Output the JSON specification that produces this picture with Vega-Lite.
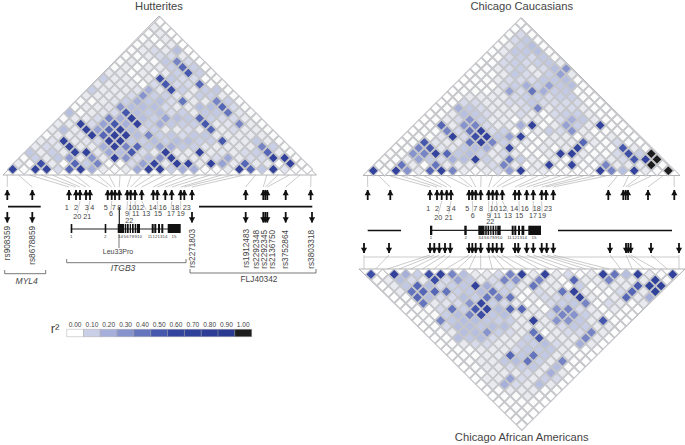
{"$schema":"https://vega.github.io/schema/vega-lite/v6.json","width":685,"height":445,"autosize":"none","padding":0,"background":"white","config":{"view":{"stroke":null},"text":{"font":"Liberation Sans","color":"#444"}},
"datasets":{
"ld":[
{"a":0,"b":1,"h":60,"c":60,"k":55},{"a":1,"b":2,"h":2,"c":0,"k":0},{"a":2,"b":3,"h":60,"c":65,"k":65},{"a":3,"b":4,"h":60,"c":30,"k":20},{"a":4,"b":5,"h":8,"c":5,"k":10},{"a":5,"b":6,"h":45,"c":45,"k":55},{"a":6,"b":7,"h":65,"c":65,"k":65},{"a":7,"b":8,"h":20,"c":35,"k":35},{"a":8,"b":9,"h":5,"c":5,"k":15},{"a":9,"b":10,"h":3,"c":3,"k":5},{"a":10,"b":11,"h":5,"c":5,"k":5},{"a":11,"b":12,"h":22,"c":8,"k":8},{"a":12,"b":13,"h":65,"c":25,"k":35},{"a":13,"b":14,"h":65,"c":65,"k":65},{"a":14,"b":15,"h":10,"c":5,"k":5},{"a":15,"b":16,"h":20,"c":5,"k":65},{"a":16,"b":17,"h":20,"c":3,"k":5},{"a":17,"b":18,"h":3,"c":3,"k":8},{"a":18,"b":19,"h":3,"c":3,"k":3},{"a":19,"b":20,"h":5,"c":3,"k":5},{"a":20,"b":21,"h":65,"c":65,"k":65},{"a":21,"b":22,"h":45,"c":35,"k":40},{"a":22,"b":23,"h":12,"c":15,"k":15},{"a":23,"b":24,"h":65,"c":65,"k":65},{"a":24,"b":25,"h":6,"c":5,"k":5},{"a":25,"b":26,"h":3,"c":3,"k":3},{"a":26,"b":27,"h":0,"c":100,"k":65},
{"a":0,"b":2,"h":5,"c":3,"k":3},{"a":1,"b":3,"h":3,"c":3,"k":5},{"a":2,"b":4,"h":55,"c":40,"k":15},{"a":3,"b":5,"h":5,"c":5,"k":8},{"a":4,"b":6,"h":3,"c":3,"k":5},{"a":5,"b":7,"h":45,"c":40,"k":55},{"a":6,"b":8,"h":10,"c":5,"k":8},{"a":7,"b":9,"h":35,"c":5,"k":25},{"a":8,"b":10,"h":3,"c":5,"k":12},{"a":9,"b":11,"h":3,"c":5,"k":5},{"a":10,"b":12,"h":8,"c":8,"k":8},{"a":11,"b":13,"h":25,"c":35,"k":35},{"a":12,"b":14,"h":60,"c":5,"k":30},{"a":13,"b":15,"h":5,"c":3,"k":5},{"a":14,"b":16,"h":65,"c":5,"k":35},{"a":15,"b":17,"h":65,"c":65,"k":5},{"a":16,"b":18,"h":5,"c":3,"k":3},{"a":17,"b":19,"h":65,"c":60,"k":45},{"a":18,"b":20,"h":25,"c":3,"k":5},{"a":19,"b":21,"h":5,"c":3,"k":5},{"a":20,"b":22,"h":45,"c":35,"k":35},{"a":21,"b":23,"h":5,"c":5,"k":5},{"a":22,"b":24,"h":5,"c":5,"k":5},{"a":23,"b":25,"h":3,"c":5,"k":5},{"a":24,"b":26,"h":65,"c":100,"k":70},{"a":25,"b":27,"h":2,"c":3,"k":3},
{"a":0,"b":3,"h":3,"c":3,"k":0},{"a":1,"b":4,"h":10,"c":3,"k":5},{"a":2,"b":5,"h":5,"c":5,"k":12},{"a":3,"b":6,"h":12,"c":25,"k":45},{"a":4,"b":7,"h":28,"c":12,"k":15},{"a":5,"b":8,"h":5,"c":8,"k":8},{"a":6,"b":9,"h":30,"c":20,"k":10},{"a":7,"b":10,"h":5,"c":15,"k":12},{"a":8,"b":11,"h":65,"c":65,"k":65},{"a":9,"b":12,"h":30,"c":10,"k":20},{"a":10,"b":13,"h":8,"c":5,"k":8},{"a":11,"b":14,"h":15,"c":40,"k":10},{"a":12,"b":15,"h":30,"c":10,"k":5},{"a":13,"b":16,"h":65,"c":5,"k":40},{"a":14,"b":17,"h":5,"c":3,"k":5},{"a":15,"b":18,"h":5,"c":5,"k":5},{"a":16,"b":19,"h":5,"c":3,"k":3},{"a":17,"b":20,"h":8,"c":5,"k":10},{"a":18,"b":21,"h":22,"c":3,"k":3},{"a":19,"b":22,"h":5,"c":5,"k":5},{"a":20,"b":23,"h":8,"c":5,"k":5},{"a":21,"b":24,"h":8,"c":8,"k":5},{"a":22,"b":25,"h":65,"c":50,"k":50},{"a":23,"b":26,"h":65,"c":65,"k":70},{"a":24,"b":27,"h":3,"c":100,"k":70},
{"a":0,"b":4,"h":12,"c":3,"k":0},{"a":1,"b":5,"h":5,"c":3,"k":5},{"a":2,"b":6,"h":10,"c":30,"k":40},{"a":3,"b":7,"h":5,"c":35,"k":45},{"a":4,"b":8,"h":65,"c":60,"k":45},{"a":5,"b":9,"h":65,"c":45,"k":40},{"a":6,"b":10,"h":6,"c":12,"k":10},{"a":7,"b":11,"h":22,"c":15,"k":12},{"a":8,"b":12,"h":15,"c":10,"k":15},{"a":9,"b":13,"h":50,"c":5,"k":40},{"a":10,"b":14,"h":8,"c":8,"k":10},{"a":11,"b":15,"h":5,"c":5,"k":5},{"a":12,"b":16,"h":65,"c":3,"k":3},{"a":13,"b":17,"h":5,"c":3,"k":8},{"a":14,"b":18,"h":5,"c":5,"k":5},{"a":15,"b":19,"h":65,"c":65,"k":40},{"a":16,"b":20,"h":5,"c":65,"k":65},{"a":17,"b":21,"h":6,"c":5,"k":5},{"a":18,"b":22,"h":5,"c":3,"k":3},{"a":19,"b":23,"h":8,"c":3,"k":3},{"a":20,"b":24,"h":10,"c":8,"k":8},{"a":21,"b":25,"h":45,"c":55,"k":45},{"a":22,"b":26,"h":5,"c":10,"k":5},{"a":23,"b":27,"h":3,"c":100,"k":70},
{"a":0,"b":5,"h":5,"c":0,"k":0},{"a":1,"b":6,"h":8,"c":3,"k":3},{"a":2,"b":7,"h":6,"c":35,"k":45},{"a":3,"b":8,"h":65,"c":50,"k":15},{"a":4,"b":9,"h":5,"c":6,"k":8},{"a":5,"b":10,"h":5,"c":6,"k":8},{"a":6,"b":11,"h":20,"c":12,"k":15},{"a":7,"b":12,"h":65,"c":15,"k":10},{"a":8,"b":13,"h":35,"c":20,"k":40},{"a":9,"b":14,"h":45,"c":5,"k":35},{"a":10,"b":15,"h":12,"c":60,"k":40},{"a":11,"b":16,"h":25,"c":3,"k":3},{"a":12,"b":17,"h":20,"c":3,"k":5},{"a":13,"b":18,"h":12,"c":5,"k":8},{"a":14,"b":19,"h":10,"c":3,"k":8},{"a":15,"b":20,"h":6,"c":5,"k":10},{"a":16,"b":21,"h":5,"c":60,"k":65},{"a":17,"b":22,"h":5,"c":3,"k":5},{"a":18,"b":23,"h":5,"c":3,"k":3},{"a":19,"b":24,"h":5,"c":3,"k":5},{"a":20,"b":25,"h":35,"c":50,"k":45},{"a":21,"b":26,"h":10,"c":5,"k":5},{"a":22,"b":27,"h":3,"c":3,"k":20},
{"a":0,"b":6,"h":5,"c":0,"k":0},{"a":1,"b":7,"h":6,"c":3,"k":3},{"a":2,"b":8,"h":65,"c":50,"k":40},{"a":3,"b":9,"h":5,"c":6,"k":5},{"a":4,"b":10,"h":6,"c":5,"k":6},{"a":5,"b":11,"h":8,"c":5,"k":8},{"a":6,"b":12,"h":65,"c":40,"k":30},{"a":7,"b":13,"h":65,"c":65,"k":60},{"a":8,"b":14,"h":12,"c":35,"k":10},{"a":9,"b":15,"h":10,"c":10,"k":8},{"a":10,"b":16,"h":15,"c":5,"k":5},{"a":11,"b":17,"h":10,"c":5,"k":3},{"a":12,"b":18,"h":15,"c":3,"k":3},{"a":13,"b":19,"h":15,"c":5,"k":8},{"a":14,"b":20,"h":10,"c":5,"k":10},{"a":15,"b":21,"h":10,"c":5,"k":12},{"a":16,"b":22,"h":50,"c":45,"k":35},{"a":17,"b":23,"h":5,"c":5,"k":3},{"a":18,"b":24,"h":5,"c":3,"k":8},{"a":19,"b":25,"h":12,"c":8,"k":5},{"a":20,"b":26,"h":5,"c":3,"k":3},{"a":21,"b":27,"h":3,"c":0,"k":5},
{"a":0,"b":7,"h":3,"c":0,"k":0},{"a":1,"b":8,"h":5,"c":3,"k":3},{"a":2,"b":9,"h":5,"c":3,"k":3},{"a":3,"b":10,"h":6,"c":6,"k":8},{"a":4,"b":11,"h":65,"c":65,"k":40},{"a":5,"b":12,"h":45,"c":8,"k":10},{"a":6,"b":13,"h":65,"c":55,"k":50},{"a":7,"b":14,"h":65,"c":65,"k":60},{"a":8,"b":15,"h":15,"c":12,"k":15},{"a":9,"b":16,"h":35,"c":25,"k":45},{"a":10,"b":17,"h":10,"c":60,"k":45},{"a":11,"b":18,"h":12,"c":3,"k":5},{"a":12,"b":19,"h":8,"c":3,"k":3},{"a":13,"b":20,"h":12,"c":5,"k":30},{"a":14,"b":21,"h":12,"c":5,"k":35},{"a":15,"b":22,"h":5,"c":3,"k":8},{"a":16,"b":23,"h":5,"c":5,"k":5},{"a":17,"b":24,"h":5,"c":3,"k":3},{"a":18,"b":25,"h":5,"c":5,"k":5},{"a":19,"b":26,"h":5,"c":3,"k":3},{"a":20,"b":27,"h":3,"c":0,"k":0},
{"a":0,"b":8,"h":5,"c":0,"k":0},{"a":1,"b":9,"h":15,"c":3,"k":3},{"a":2,"b":10,"h":5,"c":3,"k":3},{"a":3,"b":11,"h":65,"c":35,"k":10},{"a":4,"b":12,"h":25,"c":8,"k":15},{"a":5,"b":13,"h":45,"c":40,"k":35},{"a":6,"b":14,"h":65,"c":65,"k":55},{"a":7,"b":15,"h":15,"c":8,"k":12},{"a":8,"b":16,"h":8,"c":10,"k":15},{"a":9,"b":17,"h":10,"c":3,"k":5},{"a":10,"b":18,"h":5,"c":3,"k":5},{"a":11,"b":19,"h":5,"c":5,"k":5},{"a":12,"b":20,"h":8,"c":10,"k":10},{"a":13,"b":21,"h":5,"c":8,"k":35},{"a":14,"b":22,"h":45,"c":30,"k":30},{"a":15,"b":23,"h":5,"c":5,"k":10},{"a":16,"b":24,"h":8,"c":3,"k":5},{"a":17,"b":25,"h":5,"c":3,"k":3},{"a":18,"b":26,"h":5,"c":3,"k":3},{"a":19,"b":27,"h":3,"c":0,"k":0},
{"a":0,"b":9,"h":5,"c":0,"k":0},{"a":1,"b":10,"h":5,"c":3,"k":3},{"a":2,"b":11,"h":65,"c":45,"k":35},{"a":3,"b":12,"h":8,"c":5,"k":12},{"a":4,"b":13,"h":25,"c":30,"k":15},{"a":5,"b":14,"h":50,"c":35,"k":15},{"a":6,"b":15,"h":20,"c":8,"k":12},{"a":7,"b":16,"h":65,"c":5,"k":10},{"a":8,"b":17,"h":10,"c":5,"k":10},{"a":9,"b":18,"h":20,"c":20,"k":5},{"a":10,"b":19,"h":12,"c":65,"k":65},{"a":11,"b":20,"h":10,"c":3,"k":5},{"a":12,"b":21,"h":10,"c":5,"k":30},{"a":13,"b":22,"h":50,"c":25,"k":30},{"a":14,"b":23,"h":5,"c":10,"k":12},{"a":15,"b":24,"h":6,"c":5,"k":5},{"a":16,"b":25,"h":35,"c":60,"k":50},{"a":17,"b":26,"h":5,"c":3,"k":3},{"a":18,"b":27,"h":3,"c":0,"k":0},
{"a":0,"b":10,"h":3,"c":0,"k":0},{"a":1,"b":11,"h":5,"c":3,"k":3},{"a":2,"b":12,"h":5,"c":5,"k":8},{"a":3,"b":13,"h":8,"c":8,"k":15},{"a":4,"b":14,"h":35,"c":30,"k":15},{"a":5,"b":15,"h":20,"c":10,"k":12},{"a":6,"b":16,"h":65,"c":5,"k":15},{"a":7,"b":17,"h":15,"c":5,"k":15},{"a":8,"b":18,"h":10,"c":3,"k":5},{"a":9,"b":19,"h":25,"c":5,"k":5},{"a":10,"b":20,"h":15,"c":5,"k":5},{"a":11,"b":21,"h":12,"c":3,"k":5},{"a":12,"b":22,"h":45,"c":8,"k":8},{"a":13,"b":23,"h":10,"c":20,"k":12},{"a":14,"b":24,"h":8,"c":12,"k":10},{"a":15,"b":25,"h":8,"c":5,"k":5},{"a":16,"b":26,"h":5,"c":3,"k":5},{"a":17,"b":27,"h":3,"c":0,"k":0},
{"a":0,"b":11,"h":15,"c":0,"k":0},{"a":1,"b":12,"h":3,"c":3,"k":3},{"a":2,"b":13,"h":5,"c":5,"k":5},{"a":3,"b":14,"h":6,"c":15,"k":15},{"a":4,"b":15,"h":8,"c":12,"k":15},{"a":5,"b":16,"h":50,"c":8,"k":30},{"a":6,"b":17,"h":15,"c":5,"k":10},{"a":7,"b":18,"h":12,"c":5,"k":8},{"a":8,"b":19,"h":15,"c":8,"k":5},{"a":9,"b":20,"h":8,"c":5,"k":40},{"a":10,"b":21,"h":10,"c":3,"k":3},{"a":11,"b":22,"h":5,"c":8,"k":5},{"a":12,"b":23,"h":12,"c":10,"k":8},{"a":13,"b":24,"h":12,"c":10,"k":8},{"a":14,"b":25,"h":40,"c":5,"k":35},{"a":15,"b":26,"h":6,"c":3,"k":5},{"a":16,"b":27,"h":3,"c":0,"k":0},
{"a":0,"b":12,"h":3,"c":0,"k":0},{"a":1,"b":13,"h":5,"c":3,"k":3},{"a":2,"b":14,"h":5,"c":20,"k":15},{"a":3,"b":15,"h":6,"c":12,"k":12},{"a":4,"b":16,"h":30,"c":8,"k":15},{"a":5,"b":17,"h":15,"c":5,"k":8},{"a":6,"b":18,"h":15,"c":5,"k":5},{"a":7,"b":19,"h":15,"c":5,"k":5},{"a":8,"b":20,"h":8,"c":8,"k":10},{"a":9,"b":21,"h":5,"c":35,"k":50},{"a":10,"b":22,"h":5,"c":5,"k":5},{"a":11,"b":23,"h":15,"c":8,"k":5},{"a":12,"b":24,"h":15,"c":8,"k":5},{"a":13,"b":25,"h":45,"c":5,"k":35},{"a":14,"b":26,"h":8,"c":3,"k":5},{"a":15,"b":27,"h":3,"c":0,"k":0},
{"a":0,"b":13,"h":3,"c":0,"k":0},{"a":1,"b":14,"h":3,"c":3,"k":3},{"a":2,"b":15,"h":5,"c":8,"k":5},{"a":3,"b":16,"h":6,"c":8,"k":8},{"a":4,"b":17,"h":10,"c":5,"k":8},{"a":5,"b":18,"h":20,"c":5,"k":5},{"a":6,"b":19,"h":12,"c":8,"k":5},{"a":7,"b":20,"h":15,"c":8,"k":10},{"a":8,"b":21,"h":8,"c":12,"k":10},{"a":9,"b":22,"h":40,"c":8,"k":15},{"a":10,"b":23,"h":5,"c":8,"k":8},{"a":11,"b":24,"h":5,"c":8,"k":5},{"a":12,"b":25,"h":35,"c":8,"k":20},{"a":13,"b":26,"h":10,"c":3,"k":5},{"a":14,"b":27,"h":3,"c":0,"k":0},
{"a":0,"b":14,"h":5,"c":0,"k":0},{"a":1,"b":15,"h":5,"c":3,"k":3},{"a":2,"b":16,"h":5,"c":5,"k":3},{"a":3,"b":17,"h":5,"c":5,"k":5},{"a":4,"b":18,"h":8,"c":5,"k":5},{"a":5,"b":19,"h":30,"c":5,"k":5},{"a":6,"b":20,"h":10,"c":8,"k":8},{"a":7,"b":21,"h":10,"c":10,"k":12},{"a":8,"b":22,"h":6,"c":10,"k":12},{"a":9,"b":23,"h":5,"c":8,"k":12},{"a":10,"b":24,"h":10,"c":10,"k":5},{"a":11,"b":25,"h":10,"c":10,"k":3},{"a":12,"b":26,"h":5,"c":3,"k":3},{"a":13,"b":27,"h":3,"c":0,"k":0},
{"a":0,"b":15,"h":10,"c":0,"k":0},{"a":1,"b":16,"h":5,"c":3,"k":3},{"a":2,"b":17,"h":5,"c":3,"k":3},{"a":3,"b":18,"h":5,"c":3,"k":5},{"a":4,"b":19,"h":6,"c":5,"k":5},{"a":5,"b":20,"h":20,"c":25,"k":45},{"a":6,"b":21,"h":6,"c":8,"k":12},{"a":7,"b":22,"h":55,"c":40,"k":40},{"a":8,"b":23,"h":10,"c":20,"k":12},{"a":9,"b":24,"h":5,"c":10,"k":5},{"a":10,"b":25,"h":10,"c":12,"k":5},{"a":11,"b":26,"h":12,"c":3,"k":3},{"a":12,"b":27,"h":3,"c":0,"k":0},
{"a":0,"b":16,"h":5,"c":0,"k":0},{"a":1,"b":17,"h":5,"c":3,"k":3},{"a":2,"b":18,"h":5,"c":3,"k":5},{"a":3,"b":19,"h":5,"c":3,"k":5},{"a":4,"b":20,"h":3,"c":8,"k":12},{"a":5,"b":21,"h":8,"c":10,"k":15},{"a":6,"b":22,"h":50,"c":20,"k":40},{"a":7,"b":23,"h":8,"c":10,"k":10},{"a":8,"b":24,"h":8,"c":25,"k":5},{"a":9,"b":25,"h":45,"c":12,"k":35},{"a":10,"b":26,"h":3,"c":15,"k":3},{"a":11,"b":27,"h":3,"c":3,"k":0},
{"a":0,"b":17,"h":10,"c":0,"k":0},{"a":1,"b":18,"h":5,"c":3,"k":3},{"a":2,"b":19,"h":5,"c":3,"k":5},{"a":3,"b":20,"h":3,"c":5,"k":5},{"a":4,"b":21,"h":5,"c":8,"k":8},{"a":5,"b":22,"h":55,"c":8,"k":10},{"a":6,"b":23,"h":12,"c":8,"k":12},{"a":7,"b":24,"h":8,"c":12,"k":5},{"a":8,"b":25,"h":8,"c":12,"k":15},{"a":9,"b":26,"h":3,"c":15,"k":3},{"a":10,"b":27,"h":3,"c":3,"k":0},
{"a":0,"b":18,"h":5,"c":0,"k":0},{"a":1,"b":19,"h":5,"c":3,"k":3},{"a":2,"b":20,"h":3,"c":3,"k":5},{"a":3,"b":21,"h":5,"c":5,"k":5},{"a":4,"b":22,"h":3,"c":12,"k":5},{"a":5,"b":23,"h":5,"c":8,"k":8},{"a":6,"b":24,"h":10,"c":5,"k":5},{"a":7,"b":25,"h":50,"c":10,"k":20},{"a":8,"b":26,"h":10,"c":25,"k":5},{"a":9,"b":27,"h":3,"c":5,"k":0},
{"a":0,"b":19,"h":3,"c":0,"k":0},{"a":1,"b":20,"h":5,"c":3,"k":5},{"a":2,"b":21,"h":3,"c":5,"k":5},{"a":3,"b":22,"h":5,"c":8,"k":25},{"a":4,"b":23,"h":5,"c":10,"k":8},{"a":5,"b":24,"h":10,"c":5,"k":5},{"a":6,"b":25,"h":45,"c":8,"k":10},{"a":7,"b":26,"h":10,"c":15,"k":8},{"a":8,"b":27,"h":0,"c":30,"k":0},
{"a":0,"b":20,"h":3,"c":0,"k":0},{"a":1,"b":21,"h":5,"c":3,"k":5},{"a":2,"b":22,"h":3,"c":8,"k":20},{"a":3,"b":23,"h":3,"c":10,"k":8},{"a":4,"b":24,"h":12,"c":8,"k":5},{"a":5,"b":25,"h":35,"c":10,"k":15},{"a":6,"b":26,"h":8,"c":12,"k":5},{"a":7,"b":27,"h":0,"c":5,"k":0},
{"a":0,"b":21,"h":3,"c":0,"k":0},{"a":1,"b":22,"h":3,"c":3,"k":3},{"a":2,"b":23,"h":5,"c":8,"k":5},{"a":3,"b":24,"h":8,"c":10,"k":5},{"a":4,"b":25,"h":8,"c":8,"k":5},{"a":5,"b":26,"h":5,"c":12,"k":3},{"a":6,"b":27,"h":0,"c":3,"k":0},
{"a":0,"b":22,"h":3,"c":0,"k":0},{"a":1,"b":23,"h":5,"c":5,"k":3},{"a":2,"b":24,"h":8,"c":12,"k":3},{"a":3,"b":25,"h":5,"c":12,"k":5},{"a":4,"b":26,"h":15,"c":15,"k":3},{"a":5,"b":27,"h":0,"c":3,"k":0},
{"a":0,"b":23,"h":3,"c":3,"k":0},{"a":1,"b":24,"h":5,"c":5,"k":3},{"a":2,"b":25,"h":3,"c":10,"k":3},{"a":3,"b":26,"h":5,"c":15,"k":3},{"a":4,"b":27,"h":0,"c":3,"k":0},
{"a":0,"b":24,"h":3,"c":3,"k":0},{"a":1,"b":25,"h":3,"c":8,"k":3},{"a":2,"b":26,"h":5,"c":12,"k":3},{"a":3,"b":27,"h":0,"c":3,"k":0},
{"a":0,"b":25,"h":3,"c":3,"k":0},{"a":1,"b":26,"h":5,"c":8,"k":3},{"a":2,"b":27,"h":0,"c":3,"k":0},
{"a":0,"b":26,"h":5,"c":0,"k":0},{"a":1,"b":27,"h":0,"c":0,"k":0},
{"a":0,"b":27,"h":0,"c":0,"k":0}
],
"rules":[
{"kind":"outline","x":3,"x2":159,"y":175,"y2":16},{"kind":"outline","x":159,"x2":316.5,"y":16,"y2":175},{"kind":"outline","x":3,"x2":316.5,"y":175,"y2":175},
{"kind":"outline","x":363,"x2":521.7,"y":175.5,"y2":18},{"kind":"outline","x":521.7,"x2":680,"y":18,"y2":175.5},{"kind":"outline","x":363,"x2":680,"y":175.5,"y2":175.5},
{"kind":"outline","x":359,"x2":521.7,"y":269,"y2":428.3},{"kind":"outline","x":521.7,"x2":685,"y":428.3,"y2":269},{"kind":"outline","x":359,"x2":685,"y":269,"y2":269},
{"kind":"conn","x":364,"x2":679,"y":257,"y2":257},
{"kind":"conn","x":7.3,"x2":7.3,"y":175,"y2":187},{"kind":"conn","x":18.5,"x2":32.3,"y":175,"y2":187},{"kind":"conn","x":29.7,"x2":69,"y":175,"y2":187},{"kind":"conn","x":41,"x2":76,"y":175,"y2":187},{"kind":"conn","x":52.3,"x2":80,"y":175,"y2":187},{"kind":"conn","x":63.6,"x2":86,"y":175,"y2":187},{"kind":"conn","x":74.9,"x2":90,"y":175,"y2":187},{"kind":"conn","x":86.2,"x2":107.7,"y":175,"y2":187},{"kind":"conn","x":97.5,"x2":111.7,"y":175,"y2":187},{"kind":"conn","x":108.8,"x2":115,"y":175,"y2":187},{"kind":"conn","x":120,"x2":119.3,"y":175,"y2":187},{"kind":"conn","x":131.3,"x2":127.3,"y":175,"y2":187},{"kind":"conn","x":142.6,"x2":130.7,"y":175,"y2":187},{"kind":"conn","x":153.9,"x2":135,"y":175,"y2":187},{"kind":"conn","x":165.2,"x2":141.7,"y":175,"y2":187},{"kind":"conn","x":176.5,"x2":153.3,"y":175,"y2":187},{"kind":"conn","x":187.8,"x2":157.3,"y":175,"y2":187},{"kind":"conn","x":199,"x2":165.3,"y":175,"y2":187},{"kind":"conn","x":210.3,"x2":171.7,"y":175,"y2":187},{"kind":"conn","x":221.6,"x2":180.7,"y":175,"y2":187},{"kind":"conn","x":232.9,"x2":184.3,"y":175,"y2":187},{"kind":"conn","x":244.2,"x2":192,"y":175,"y2":187},{"kind":"conn","x":255.5,"x2":245.7,"y":175,"y2":187},{"kind":"conn","x":266.8,"x2":263.3,"y":175,"y2":187},{"kind":"conn","x":278,"x2":265.3,"y":175,"y2":187},{"kind":"conn","x":289.3,"x2":267.3,"y":175,"y2":187},{"kind":"conn","x":300,"x2":285.7,"y":175,"y2":187},{"kind":"conn","x":311,"x2":310.7,"y":175,"y2":187},
{"kind":"conn","x":367.6,"x2":367.7,"y":176,"y2":187},{"kind":"conn","x":379,"x2":390.3,"y":176,"y2":187},{"kind":"conn","x":390.3,"x2":430,"y":176,"y2":187},{"kind":"conn","x":401.6,"x2":437,"y":176,"y2":187},{"kind":"conn","x":413,"x2":441.7,"y":176,"y2":187},{"kind":"conn","x":424.4,"x2":446.7,"y":176,"y2":187},{"kind":"conn","x":435.7,"x2":451,"y":176,"y2":187},{"kind":"conn","x":447,"x2":469,"y":176,"y2":187},{"kind":"conn","x":458.4,"x2":472.3,"y":176,"y2":187},{"kind":"conn","x":469.8,"x2":475.7,"y":176,"y2":187},{"kind":"conn","x":481.1,"x2":480.7,"y":176,"y2":187},{"kind":"conn","x":492.4,"x2":488.7,"y":176,"y2":187},{"kind":"conn","x":503.8,"x2":492.7,"y":176,"y2":187},{"kind":"conn","x":515.2,"x2":496.7,"y":176,"y2":187},{"kind":"conn","x":526.5,"x2":502.3,"y":176,"y2":187},{"kind":"conn","x":537.9,"x2":515,"y":176,"y2":187},{"kind":"conn","x":549.2,"x2":519,"y":176,"y2":187},{"kind":"conn","x":560.6,"x2":526.7,"y":176,"y2":187},{"kind":"conn","x":571.9,"x2":533.3,"y":176,"y2":187},{"kind":"conn","x":583.3,"x2":541.7,"y":176,"y2":187},{"kind":"conn","x":594.6,"x2":546,"y":176,"y2":187},{"kind":"conn","x":606,"x2":553.3,"y":176,"y2":187},{"kind":"conn","x":617.3,"x2":608.3,"y":176,"y2":187},{"kind":"conn","x":628.6,"x2":623.3,"y":176,"y2":187},{"kind":"conn","x":640,"x2":625.7,"y":176,"y2":187},{"kind":"conn","x":651.4,"x2":628,"y":176,"y2":187},{"kind":"conn","x":662.7,"x2":648,"y":176,"y2":187},{"kind":"conn","x":674,"x2":674.3,"y":176,"y2":187},
{"kind":"conn","x":364,"x2":364,"y":269,"y2":255},{"kind":"conn","x":375.7,"x2":389,"y":269,"y2":255},{"kind":"conn","x":387.3,"x2":430,"y":269,"y2":255},{"kind":"conn","x":399,"x2":434.3,"y":269,"y2":255},{"kind":"conn","x":410.7,"x2":439.3,"y":269,"y2":255},{"kind":"conn","x":422.3,"x2":445,"y":269,"y2":255},{"kind":"conn","x":434,"x2":450.3,"y":269,"y2":255},{"kind":"conn","x":445.7,"x2":469,"y":269,"y2":255},{"kind":"conn","x":457.3,"x2":472.3,"y":269,"y2":255},{"kind":"conn","x":469,"x2":475.7,"y":269,"y2":255},{"kind":"conn","x":480.7,"x2":480.7,"y":269,"y2":255},{"kind":"conn","x":492.3,"x2":488.7,"y":269,"y2":255},{"kind":"conn","x":504,"x2":492.7,"y":269,"y2":255},{"kind":"conn","x":515.7,"x2":496.7,"y":269,"y2":255},{"kind":"conn","x":527.3,"x2":501.7,"y":269,"y2":255},{"kind":"conn","x":539,"x2":515,"y":269,"y2":255},{"kind":"conn","x":550.7,"x2":518.3,"y":269,"y2":255},{"kind":"conn","x":562.3,"x2":526.7,"y":269,"y2":255},{"kind":"conn","x":574,"x2":533.3,"y":269,"y2":255},{"kind":"conn","x":585.7,"x2":541.7,"y":269,"y2":255},{"kind":"conn","x":597.3,"x2":546.7,"y":269,"y2":255},{"kind":"conn","x":609,"x2":553.3,"y":269,"y2":255},{"kind":"conn","x":620.7,"x2":610,"y":269,"y2":255},{"kind":"conn","x":632.3,"x2":626,"y":269,"y2":255},{"kind":"conn","x":644,"x2":628.3,"y":269,"y2":255},{"kind":"conn","x":655.7,"x2":630.7,"y":269,"y2":255},{"kind":"conn","x":667.3,"x2":651,"y":269,"y2":255},{"kind":"conn","x":679,"x2":679,"y":269,"y2":255},
{"kind":"conn","x":80,"x2":77.3,"y":201,"y2":213},{"kind":"conn","x":90,"x2":87.3,"y":201,"y2":213},{"kind":"conn","x":111.7,"x2":111,"y":201,"y2":210},{"kind":"conn","x":127.3,"x2":127,"y":201,"y2":210},{"kind":"conn","x":130.7,"x2":129.3,"y":201,"y2":217},{"kind":"conn","x":135,"x2":135.7,"y":201,"y2":210},{"kind":"conn","x":141.7,"x2":146.3,"y":201,"y2":210},{"kind":"conn","x":157.3,"x2":158,"y":201,"y2":210},{"kind":"conn","x":171.7,"x2":171,"y":201,"y2":210},{"kind":"conn","x":180.7,"x2":180.7,"y":201,"y2":210},
{"kind":"conn","x":441.7,"x2":438.3,"y":201,"y2":214},{"kind":"conn","x":451,"x2":448.7,"y":201,"y2":214},{"kind":"conn","x":472.3,"x2":472.7,"y":201,"y2":212},{"kind":"conn","x":488.7,"x2":488.7,"y":201,"y2":212},{"kind":"conn","x":492.7,"x2":490.3,"y":201,"y2":218},{"kind":"conn","x":496.7,"x2":497.3,"y":201,"y2":212},{"kind":"conn","x":502.3,"x2":508,"y":201,"y2":212},{"kind":"conn","x":519,"x2":519.3,"y":201,"y2":212},{"kind":"conn","x":533.3,"x2":533,"y":201,"y2":212},{"kind":"conn","x":541.7,"x2":542,"y":201,"y2":212},
{"kind":"thick","x":8,"x2":40.7,"y":206.7,"y2":206.7},{"kind":"thick","x":199,"x2":312.3,"y":206.7,"y2":206.7},{"kind":"thick","x":367.7,"x2":401,"y":230.5,"y2":230.5},{"kind":"thick","x":558,"x2":672,"y":230.5,"y2":230.5},
{"kind":"gene","x":70.7,"x2":180,"y":229,"y2":229},{"kind":"gene","x":431,"x2":541,"y":230.3,"y2":230.3},
{"kind":"gene","x":119.3,"x2":119.3,"y":207,"y2":225},{"kind":"bracket","x":119,"x2":119,"y":234,"y2":248},
{"kind":"bracket","x":66.7,"x2":186,"y":262.7,"y2":262.7},{"kind":"bracket","x":66.7,"x2":66.7,"y":262.7,"y2":259},{"kind":"bracket","x":186,"x2":186,"y":262.7,"y2":259},
{"kind":"bracket","x":4.7,"x2":45.7,"y":273.7,"y2":273.7},{"kind":"bracket","x":4.7,"x2":4.7,"y":273.7,"y2":270},{"kind":"bracket","x":45.7,"x2":45.7,"y":273.7,"y2":270},
{"kind":"bracket","x":190,"x2":316,"y":273,"y2":273},{"kind":"bracket","x":190,"x2":190,"y":273,"y2":269},{"kind":"bracket","x":316,"x2":316,"y":273,"y2":269}
],
"arrows":[
{"x":7.3,"y":190,"y2":200,"d":"up"},{"x":32.3,"y":190,"y2":200,"d":"up"},{"x":69,"y":190,"y2":200,"d":"up"},{"x":76,"y":190,"y2":200,"d":"up"},{"x":80,"y":190,"y2":200,"d":"up"},{"x":86,"y":190,"y2":200,"d":"up"},{"x":90,"y":190,"y2":200,"d":"up"},{"x":107.7,"y":190,"y2":200,"d":"up"},{"x":111.7,"y":190,"y2":200,"d":"up"},{"x":115,"y":190,"y2":200,"d":"up"},{"x":119.3,"y":190,"y2":200,"d":"up"},{"x":127.3,"y":190,"y2":200,"d":"up"},{"x":130.7,"y":190,"y2":200,"d":"up"},{"x":135,"y":190,"y2":200,"d":"up"},{"x":141.7,"y":190,"y2":200,"d":"up"},{"x":153.3,"y":190,"y2":200,"d":"up"},{"x":157.3,"y":190,"y2":200,"d":"up"},{"x":165.3,"y":190,"y2":200,"d":"up"},{"x":171.7,"y":190,"y2":200,"d":"up"},{"x":180.7,"y":190,"y2":200,"d":"up"},{"x":184.3,"y":190,"y2":200,"d":"up"},{"x":192,"y":190,"y2":200,"d":"up"},{"x":245.7,"y":190,"y2":200,"d":"up"},{"x":263.3,"y":190,"y2":200,"d":"up"},{"x":265.3,"y":190,"y2":200,"d":"up"},{"x":267.3,"y":190,"y2":200,"d":"up"},{"x":285.7,"y":190,"y2":200,"d":"up"},{"x":310.7,"y":190,"y2":200,"d":"up"},
{"x":7.3,"y":212,"y2":222.5,"d":"down"},{"x":32.3,"y":212,"y2":222.5,"d":"down"},{"x":192,"y":212,"y2":222.5,"d":"down"},{"x":245.7,"y":212,"y2":222.5,"d":"down"},{"x":263.3,"y":212,"y2":222.5,"d":"down"},{"x":265.3,"y":212,"y2":222.5,"d":"down"},{"x":267.3,"y":212,"y2":222.5,"d":"down"},{"x":285.7,"y":212,"y2":222.5,"d":"down"},{"x":312,"y":212,"y2":222.5,"d":"down"},
{"x":367.7,"y":190,"y2":200,"d":"up"},{"x":390.3,"y":190,"y2":200,"d":"up"},{"x":430,"y":190,"y2":200,"d":"up"},{"x":437,"y":190,"y2":200,"d":"up"},{"x":441.7,"y":190,"y2":200,"d":"up"},{"x":446.7,"y":190,"y2":200,"d":"up"},{"x":451,"y":190,"y2":200,"d":"up"},{"x":469,"y":190,"y2":200,"d":"up"},{"x":472.3,"y":190,"y2":200,"d":"up"},{"x":475.7,"y":190,"y2":200,"d":"up"},{"x":480.7,"y":190,"y2":200,"d":"up"},{"x":488.7,"y":190,"y2":200,"d":"up"},{"x":492.7,"y":190,"y2":200,"d":"up"},{"x":496.7,"y":190,"y2":200,"d":"up"},{"x":502.3,"y":190,"y2":200,"d":"up"},{"x":515,"y":190,"y2":200,"d":"up"},{"x":519,"y":190,"y2":200,"d":"up"},{"x":526.7,"y":190,"y2":200,"d":"up"},{"x":533.3,"y":190,"y2":200,"d":"up"},{"x":541.7,"y":190,"y2":200,"d":"up"},{"x":546,"y":190,"y2":200,"d":"up"},{"x":553.3,"y":190,"y2":200,"d":"up"},{"x":608.3,"y":190,"y2":200,"d":"up"},{"x":623.3,"y":190,"y2":200,"d":"up"},{"x":625.7,"y":190,"y2":200,"d":"up"},{"x":628,"y":190,"y2":200,"d":"up"},{"x":648,"y":190,"y2":200,"d":"up"},{"x":674.3,"y":190,"y2":200,"d":"up"},
{"x":364,"y":243,"y2":253,"d":"down"},{"x":389,"y":243,"y2":253,"d":"down"},{"x":430,"y":243,"y2":253,"d":"down"},{"x":434.3,"y":243,"y2":253,"d":"down"},{"x":439.3,"y":243,"y2":253,"d":"down"},{"x":445,"y":243,"y2":253,"d":"down"},{"x":450.3,"y":243,"y2":253,"d":"down"},{"x":469,"y":243,"y2":253,"d":"down"},{"x":472.3,"y":243,"y2":253,"d":"down"},{"x":475.7,"y":243,"y2":253,"d":"down"},{"x":480.7,"y":243,"y2":253,"d":"down"},{"x":488.7,"y":243,"y2":253,"d":"down"},{"x":492.7,"y":243,"y2":253,"d":"down"},{"x":496.7,"y":243,"y2":253,"d":"down"},{"x":501.7,"y":243,"y2":253,"d":"down"},{"x":515,"y":243,"y2":253,"d":"down"},{"x":518.3,"y":243,"y2":253,"d":"down"},{"x":526.7,"y":243,"y2":253,"d":"down"},{"x":533.3,"y":243,"y2":253,"d":"down"},{"x":541.7,"y":243,"y2":253,"d":"down"},{"x":546.7,"y":243,"y2":253,"d":"down"},{"x":553.3,"y":243,"y2":253,"d":"down"},{"x":610,"y":243,"y2":253,"d":"down"},{"x":626,"y":243,"y2":253,"d":"down"},{"x":628.3,"y":243,"y2":253,"d":"down"},{"x":630.7,"y":243,"y2":253,"d":"down"},{"x":651,"y":243,"y2":253,"d":"down"},{"x":679,"y":243,"y2":253,"d":"down"}
],
"exons":[
{"x":70.7,"x2":72.3,"y":224,"y2":233},{"x":104.7,"x2":106.3,"y":224,"y2":233},{"x":117.7,"x2":124,"y":224,"y2":233},{"x":124.7,"x2":126.3,"y":224,"y2":233},{"x":127,"x2":128.7,"y":224,"y2":233},{"x":129.7,"x2":131,"y":224,"y2":233},{"x":132,"x2":133.7,"y":224,"y2":233},{"x":134.7,"x2":136,"y":224,"y2":233},{"x":136.7,"x2":140,"y":224,"y2":233},{"x":151.7,"x2":153.7,"y":224,"y2":233},{"x":154.3,"x2":156.3,"y":224,"y2":233},{"x":158,"x2":160,"y":224,"y2":233},{"x":161.3,"x2":163.3,"y":224,"y2":233},{"x":167.7,"x2":180.7,"y":224,"y2":233},
{"x":430,"x2":432.3,"y":225.7,"y2":235},{"x":464.3,"x2":466.7,"y":225.7,"y2":235},{"x":478.3,"x2":484.5,"y":225.7,"y2":235},{"x":485.2,"x2":486.8,"y":225.7,"y2":235},{"x":487.5,"x2":489.2,"y":225.7,"y2":235},{"x":490.2,"x2":491.5,"y":225.7,"y2":235},{"x":492.5,"x2":494.2,"y":225.7,"y2":235},{"x":495.2,"x2":496.5,"y":225.7,"y2":235},{"x":497.2,"x2":500.7,"y":225.7,"y2":235},{"x":511.7,"x2":513.7,"y":225.7,"y2":235},{"x":514.3,"x2":516.3,"y":225.7,"y2":235},{"x":518,"x2":520,"y":225.7,"y2":235},{"x":521.5,"x2":524.3,"y":225.7,"y2":235},{"x":528.3,"x2":541,"y":225.7,"y2":235}
],
"labels":[
{"k":"title","x":159,"y":7,"t":"Hutterites"},{"k":"title","x":521.7,"y":7,"t":"Chicago Caucasians"},{"k":"title","x":521.7,"y":438.3,"t":"Chicago African Americans"},
{"k":"name","x":259,"y":279.5,"t":"FLJ40342"},{"k":"pro","x":118,"y":252,"t":"Leu33Pro"},{"k":"r2","x":55,"y":329,"t":"r²"},
{"k":"num","x":66.7,"y":207.7,"t":"1"},{"k":"num","x":76,"y":207.7,"t":"2"},{"k":"num","x":77.3,"y":217,"t":"20"},{"k":"num","x":86.7,"y":207.7,"t":"3"},{"k":"num","x":87.3,"y":217,"t":"21"},{"k":"num","x":92.3,"y":207.7,"t":"4"},{"k":"num","x":105.7,"y":207.7,"t":"5"},{"k":"num","x":111,"y":214.3,"t":"6"},{"k":"num","x":113.7,"y":207.7,"t":"7"},{"k":"num","x":119.3,"y":207.7,"t":"8"},{"k":"num","x":127,"y":213.7,"t":"9"},{"k":"num","x":132.3,"y":207.7,"t":"10"},{"k":"num","x":135.7,"y":214.3,"t":"11"},{"k":"num","x":140,"y":207.7,"t":"12"},{"k":"num","x":146.3,"y":214.3,"t":"13"},{"k":"num","x":152.7,"y":207.7,"t":"14"},{"k":"num","x":158,"y":214.3,"t":"15"},{"k":"num","x":162.7,"y":207.7,"t":"16"},{"k":"num","x":171,"y":214.3,"t":"17"},{"k":"num","x":175.3,"y":207.7,"t":"18"},{"k":"num","x":180.7,"y":214.3,"t":"19"},{"k":"num","x":129.3,"y":220.7,"t":"22"},{"k":"num","x":186.7,"y":207.7,"t":"23"},
{"k":"num","x":428.3,"y":209,"t":"1"},{"k":"num","x":437,"y":209,"t":"2"},{"k":"num","x":438.3,"y":218.3,"t":"20"},{"k":"num","x":448.3,"y":209,"t":"3"},{"k":"num","x":448.7,"y":218.3,"t":"21"},{"k":"num","x":453.7,"y":209,"t":"4"},{"k":"num","x":467.3,"y":209,"t":"5"},{"k":"num","x":472.7,"y":216,"t":"6"},{"k":"num","x":475.3,"y":209,"t":"7"},{"k":"num","x":481,"y":209,"t":"8"},{"k":"num","x":488.7,"y":215.7,"t":"9"},{"k":"num","x":493.7,"y":209,"t":"10"},{"k":"num","x":497.3,"y":216,"t":"11"},{"k":"num","x":502.7,"y":209,"t":"12"},{"k":"num","x":508,"y":216,"t":"13"},{"k":"num","x":514.3,"y":209,"t":"14"},{"k":"num","x":519.3,"y":216,"t":"15"},{"k":"num","x":524.7,"y":209,"t":"16"},{"k":"num","x":533,"y":216,"t":"17"},{"k":"num","x":536.7,"y":209,"t":"18"},{"k":"num","x":542,"y":216,"t":"19"},{"k":"num","x":490.3,"y":221.7,"t":"22"},{"k":"num","x":548,"y":209,"t":"23"},
{"k":"exon","x":71.3,"y":236.7,"t":"1"},{"k":"exon","x":105.3,"y":236.7,"t":"2"},{"k":"exon","x":119,"y":236.7,"t":"3"},{"k":"exon","x":121.8,"y":236.7,"t":"4"},{"k":"exon","x":124.6,"y":236.7,"t":"5"},{"k":"exon","x":127.4,"y":236.7,"t":"6"},{"k":"exon","x":130.2,"y":236.7,"t":"7"},{"k":"exon","x":133,"y":236.7,"t":"8"},{"k":"exon","x":135.8,"y":236.7,"t":"9"},{"k":"exon","x":139.5,"y":236.7,"t":"10"},{"k":"exon","x":150,"y":236.7,"t":"11"},{"k":"exon","x":155,"y":236.7,"t":"12"},{"k":"exon","x":160,"y":236.7,"t":"13"},{"k":"exon","x":165,"y":236.7,"t":"14"},{"k":"exon","x":174,"y":236.7,"t":"15"},
{"k":"exon","x":431,"y":237.7,"t":"1"},{"k":"exon","x":465.7,"y":237.7,"t":"2"},{"k":"exon","x":479.5,"y":237.7,"t":"3"},{"k":"exon","x":482.3,"y":237.7,"t":"4"},{"k":"exon","x":485.1,"y":237.7,"t":"5"},{"k":"exon","x":487.9,"y":237.7,"t":"6"},{"k":"exon","x":490.7,"y":237.7,"t":"7"},{"k":"exon","x":493.5,"y":237.7,"t":"8"},{"k":"exon","x":496.3,"y":237.7,"t":"9"},{"k":"exon","x":500,"y":237.7,"t":"10"},{"k":"exon","x":509.5,"y":237.7,"t":"11"},{"k":"exon","x":514.5,"y":237.7,"t":"12"},{"k":"exon","x":519.5,"y":237.7,"t":"13"},{"k":"exon","x":524.5,"y":237.7,"t":"14"},{"k":"exon","x":534,"y":237.7,"t":"15"}
],
"italic":[{"x":26.7,"y":280.7,"t":"MYL4"},{"x":123,"y":267.7,"t":"ITGB3"}],
"rs":[{"x":8,"y":226,"t":"rs908359"},{"x":32.5,"y":226,"t":"rs8678859"},{"x":193,"y":229,"t":"rs2271803"},{"x":246.5,"y":229,"t":"rs1912483"},{"x":257,"y":230,"t":"rs2292348"},{"x":264.8,"y":230,"t":"rs2292345"},{"x":272.6,"y":230,"t":"rs2136750"},{"x":286,"y":230,"t":"rs3752864"},{"x":312,"y":230,"t":"rs3803318"}],
"scale":[{"r":0,"hi":10,"mid":5,"t":"0.00"},{"r":10,"hi":20,"mid":15,"t":"0.10"},{"r":20,"hi":30,"mid":25,"t":"0.20"},{"r":30,"hi":40,"mid":35,"t":"0.30"},{"r":40,"hi":50,"mid":45,"t":"0.40"},{"r":50,"hi":60,"mid":55,"t":"0.50"},{"r":60,"hi":70,"mid":65,"t":"0.60"},{"r":70,"hi":80,"mid":75,"t":"0.70"},{"r":80,"hi":90,"mid":85,"t":"0.80"},{"r":90,"hi":100,"mid":95,"t":"0.90"},{"r":100,"hi":110,"mid":105,"t":"1.00"}]
},
"resolve":{"scale":{"x":"independent","y":"independent"}},
"layer":[
{"data":{"name":"rules"},"mark":{"type":"rule"},"encoding":{"x":{"field":"x","type":"quantitative","scale":{"domain":[0,685]},"axis":null},"x2":{"field":"x2"},"y":{"field":"y","type":"quantitative","scale":{"domain":[0,445],"range":[0,445]},"axis":null},"y2":{"field":"y2"},"color":{"field":"kind","type":"nominal","legend":null,"scale":{"domain":["outline","conn","thick","gene","bracket"],"range":["#a9a9ad","#a8a8a8","#111111","#222222","#555555"]}},"strokeWidth":{"field":"kind","type":"nominal","legend":null,"scale":{"type":"ordinal","domain":["outline","conn","thick","gene","bracket"],"range":[0.9,0.6,1.7,1.2,0.8]}}}},
{"data":{"name":"ld"},"transform":[{"calculate":"(datum.a+datum.b)/2","as":"mid"},{"calculate":"datum.b-datum.a","as":"sep"}],"mark":{"type":"point","shape":"diamond","filled":true,"size":105,"stroke":"#c4c5c9","strokeWidth":1.2,"opacity":1},"encoding":{"x":{"field":"mid","type":"quantitative","scale":{"domain":[0.5,26.5],"range":[12.7,307.3]},"axis":null},"y":{"field":"sep","type":"quantitative","scale":{"domain":[1,27],"range":[169.3,22]},"axis":null},"fill":{"field":"h","type":"quantitative","legend":null,"scale":{"domain":[0,3,5,10,20,30,40,50,60,90,99,100],"range":["#ffffff","#fbfbfc","#e9eaf0","#c9cfe6","#a5afda","#8793cd","#6475bd","#4658ae","#33449f","#2a3a90","#28368a","#1c1c1c"]}}}},
{"data":{"name":"ld"},"transform":[{"calculate":"(datum.a+datum.b)/2","as":"mid"},{"calculate":"datum.b-datum.a","as":"sep"}],"mark":{"type":"point","shape":"diamond","filled":true,"size":105,"stroke":"#c4c5c9","strokeWidth":1.2,"opacity":1},"encoding":{"x":{"field":"mid","type":"quantitative","scale":{"domain":[0.5,26.5],"range":[373.3,668.3]},"axis":null},"y":{"field":"sep","type":"quantitative","scale":{"domain":[1,27],"range":[170.7,23.2]},"axis":null},"fill":{"field":"c","type":"quantitative","legend":null,"scale":{"domain":[0,3,5,10,20,30,40,50,60,90,99,100],"range":["#ffffff","#fbfbfc","#e9eaf0","#c9cfe6","#a5afda","#8793cd","#6475bd","#4658ae","#33449f","#2a3a90","#28368a","#1c1c1c"]}}}},
{"data":{"name":"ld"},"transform":[{"calculate":"(datum.a+datum.b)/2","as":"mid"},{"calculate":"datum.b-datum.a","as":"sep"}],"mark":{"type":"point","shape":"diamond","filled":true,"size":112,"stroke":"#c4c5c9","strokeWidth":1.2,"opacity":1},"encoding":{"x":{"field":"mid","type":"quantitative","scale":{"domain":[0.5,26.5],"range":[371,672.7]},"axis":null},"y":{"field":"sep","type":"quantitative","scale":{"domain":[1,27],"range":[274.3,425]},"axis":null},"fill":{"field":"k","type":"quantitative","legend":null,"scale":{"domain":[0,3,5,10,20,30,40,50,60,90,99,100],"range":["#ffffff","#fbfbfc","#e9eaf0","#c9cfe6","#a5afda","#8793cd","#6475bd","#4658ae","#33449f","#2a3a90","#28368a","#1c1c1c"]}}}},
{"data":{"name":"arrows"},"mark":{"type":"rule","strokeWidth":1.8,"color":"#111"},"encoding":{"x":{"field":"x","type":"quantitative","scale":{"domain":[0,685]},"axis":null},"y":{"field":"y","type":"quantitative","scale":{"domain":[0,445],"range":[0,445]},"axis":null},"y2":{"field":"y2"}}},
{"data":{"name":"arrows"},"transform":[{"calculate":"datum.d=='up'?datum.y+2.5:datum.y2-2.5","as":"head"}],"mark":{"type":"point","filled":true,"size":38,"color":"#111","opacity":1},"encoding":{"x":{"field":"x","type":"quantitative","scale":{"domain":[0,685]},"axis":null},"y":{"field":"head","type":"quantitative","scale":{"domain":[0,445],"range":[0,445]},"axis":null},"shape":{"field":"d","type":"nominal","legend":null,"scale":{"domain":["up","down"],"range":["triangle-up","triangle-down"]}}}},
{"data":{"name":"exons"},"mark":{"type":"rect","color":"#111"},"encoding":{"x":{"field":"x","type":"quantitative","scale":{"domain":[0,685]},"axis":null},"x2":{"field":"x2"},"y":{"field":"y","type":"quantitative","scale":{"domain":[0,445],"range":[0,445]},"axis":null},"y2":{"field":"y2"}}},
{"data":{"name":"labels"},"mark":{"type":"text","align":"center","baseline":"middle"},"encoding":{"x":{"field":"x","type":"quantitative","scale":{"domain":[0,685]},"axis":null},"y":{"field":"y","type":"quantitative","scale":{"domain":[0,445],"range":[0,445]},"axis":null},"text":{"field":"t"},"size":{"field":"k","type":"nominal","legend":null,"scale":{"type":"ordinal","domain":["title","name","pro","r2","num","exon"],"range":[11.2,8.3,7,13,7.2,4.4]}}}},
{"data":{"name":"italic"},"mark":{"type":"text","align":"center","baseline":"middle","fontStyle":"italic","fontSize":8.5},"encoding":{"x":{"field":"x","type":"quantitative","scale":{"domain":[0,685]},"axis":null},"y":{"field":"y","type":"quantitative","scale":{"domain":[0,445],"range":[0,445]},"axis":null},"text":{"field":"t"}}},
{"data":{"name":"rs"},"mark":{"type":"text","angle":270,"align":"right","baseline":"middle","fontSize":8.2},"encoding":{"x":{"field":"x","type":"quantitative","scale":{"domain":[0,685]},"axis":null},"y":{"field":"y","type":"quantitative","scale":{"domain":[0,445],"range":[0,445]},"axis":null},"text":{"field":"t"}}},
{"data":{"name":"scale"},"mark":{"type":"rect","stroke":"#999","strokeWidth":0.4},"encoding":{"x":{"field":"r","type":"quantitative","scale":{"domain":[0,110],"range":[66.7,251.7]},"axis":null},"x2":{"field":"hi"},"y":{"datum":329.3,"type":"quantitative","scale":{"domain":[0,445],"range":[0,445]},"axis":null},"y2":{"datum":336.7},"fill":{"field":"r","type":"quantitative","legend":null,"scale":{"domain":[0,3,5,10,20,30,40,50,60,90,99,100],"range":["#ffffff","#fbfbfc","#e9eaf0","#c9cfe6","#a5afda","#8793cd","#6475bd","#4658ae","#33449f","#2a3a90","#28368a","#1c1c1c"]}}}},
{"data":{"name":"scale"},"mark":{"type":"text","fontSize":6.6,"align":"center","baseline":"middle"},"encoding":{"x":{"field":"mid","type":"quantitative","scale":{"domain":[0,110],"range":[66.7,251.7]},"axis":null},"y":{"datum":325,"type":"quantitative","scale":{"domain":[0,445],"range":[0,445]},"axis":null},"text":{"field":"t"}}}
]}
